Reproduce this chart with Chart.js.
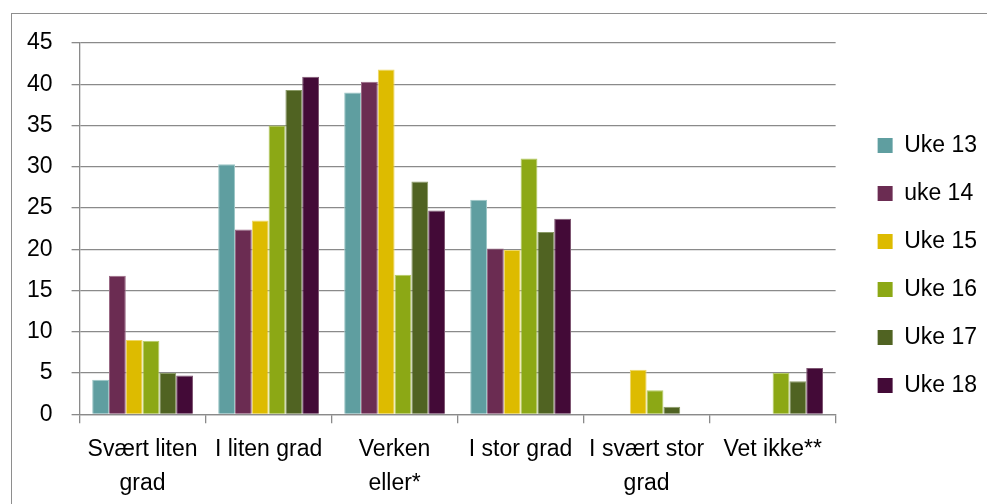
<!DOCTYPE html>
<html>
<head>
<meta charset="utf-8">
<script src="https://cdn.jsdelivr.net/npm/chart.js@4/dist/chart.umd.min.js"></script>
<style>
  html, body { margin: 0; padding: 0; background: #fff; overflow: hidden; }
  #wrap { position: relative; width: 987px; height: 504px; overflow: hidden; }
  #frame { position: absolute; left: 11px; top: 13px; width: 1200px; height: 800px; border: 1px solid #8e8e8e; box-sizing: border-box; pointer-events: none; }
  canvas { position: absolute; left: 0; top: 0; }
</style>
</head>
<body>
<div id="wrap">
  <div id="frame"></div>
  <canvas id="c" width="987" height="504"></canvas>
</div>
<script>
const categories = [['Svært liten', 'grad'], 'I liten grad', ['Verken', 'eller*'], 'I stor grad', ['I svært stor', 'grad'], 'Vet ikke**'];
const seriesNames = ['Uke 13', 'uke 14', 'Uke 15', 'Uke 16', 'Uke 17', 'Uke 18'];
const uke13 = [4.2, 30.3, 39.0, 26.0, null, null];
const uke14 = [16.8, 22.4, 40.3, 20.1, null, null];
const uke15 = [9.0, 23.5, 41.8, 19.9, 5.4, null];
const uke16 = [8.9, 35.0, 16.9, 31.0, 2.9, 5.0];
const uke17 = [5.0, 39.3, 28.2, 22.1, 0.9, 4.0];
const uke18 = [4.7, 40.9, 24.7, 23.7, null, 5.6];
const seriesColors = ['#5F9EA0', '#6B2C52', '#DDBB00', '#8CA815', '#506322', '#430A37'];
const seriesEdges = ['#9CC6C6', '#9A6A86', '#EED766', '#B5CB63', '#8A9A66', '#7E5672'];
const yTicks = [0, 5, 10, 15, 20, 25, 30, 35, 40, 45];

const seriesValues = [uke13, uke14, uke15, uke16, uke17, uke18];

Chart.defaults.font.family = "'Liberation Sans', Arial, sans-serif";
Chart.defaults.font.size = 23;
Chart.defaults.color = '#000';

const legendShift = {
  id: 'legendShift',
  afterLayout(chart) {
    const lg = chart.legend;
    if (!lg) return;
    const dx = (chart.chartArea.right + 42) - (lg.left + 25);
    lg.left += dx; lg.right += dx;
    lg.top -= 11; lg.bottom -= 11;
  }
};

const gridColor = '#8a8a8a';

new Chart(document.getElementById('c'), {
  type: 'bar',
  data: {
    labels: categories,
    datasets: seriesValues.map((vals, i) => ({
      label: seriesNames[i],
      data: vals,
      backgroundColor: seriesColors[i],
      borderColor: seriesEdges[i],
      borderWidth: { top: 1, left: 1, right: 1, bottom: 0 },
      categoryPercentage: 0.8,
      barPercentage: 1.0
    }))
  },
  options: {
    responsive: false,
    animation: false,
    layout: { padding: { left: 8, right: 17, top: 43, bottom: -6 } },
    plugins: {
      tooltip: { enabled: false },
      legend: {
        position: 'right',
        labels: {
          boxWidth: 15,
          boxHeight: 15,
          padding: 25,
          font: { size: 23 },
          color: '#000',
          generateLabels(chart) {
            return chart.data.datasets.map((ds, i) => ({
              text: ds.label,
              fillStyle: seriesColors[i],
              strokeStyle: seriesColors[i],
              lineWidth: 0,
              hidden: false,
              datasetIndex: i,
              fontColor: '#000'
            }));
          }
        }
      }
    },
    scales: {
      x: {
        offset: true,
        afterFit(scale) { scale.paddingLeft = 0; scale.paddingRight = 0; },
        grid: {
          offset: true,
          drawOnChartArea: false,
          drawTicks: true,
          tickLength: 9,
          color: gridColor,
          lineWidth: 1.3
        },
        border: { display: true, color: gridColor, width: 1.3 },
        ticks: {
          maxRotation: 0,
          autoSkip: false,
          padding: 10,
          font: { size: 23, lineHeight: 1.45 },
          color: '#000'
        }
      },
      y: {
        min: 0,
        max: 45,
        afterBuildTicks(scale) { scale.ticks = yTicks.map(v => ({ value: v })); },
        grid: {
          color: gridColor,
          lineWidth: 1.3,
          drawTicks: true,
          tickLength: 8
        },
        border: { display: true, color: gridColor, width: 1.3 },
        ticks: {
          padding: 19,
          font: { size: 23 },
          color: '#000'
        }
      }
    }
  },
  plugins: [legendShift]
});
</script>
</body>
</html>
